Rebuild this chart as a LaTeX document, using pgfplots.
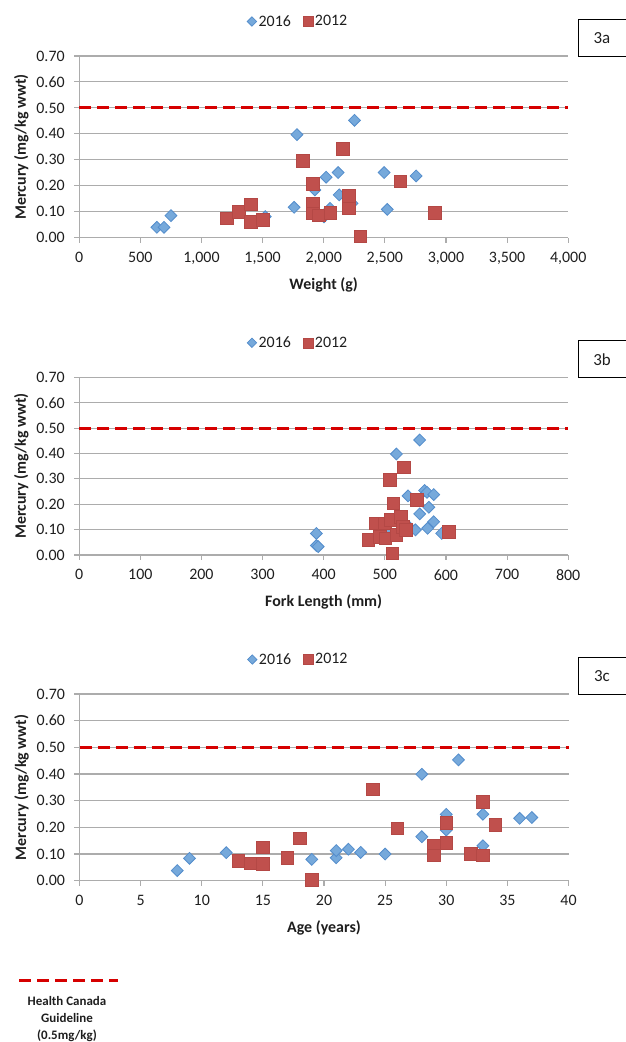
\documentclass[border=0pt]{standalone}
\usepackage{fontspec}
\setmainfont{Carlito}
\usepackage{pgfplots}
\pgfplotsset{compat=1.18}
\definecolor{bluefill}{RGB}{118,169,219}
\definecolor{blueedge}{RGB}{84,141,204}
\definecolor{redfill}{RGB}{192,80,77}
\definecolor{rededge}{RGB}{180,72,69}
\definecolor{guide}{RGB}{214,0,0}
\definecolor{gridgray}{RGB}{172,172,172}
\definecolor{txt}{RGB}{30,30,30}
\pgfplotsset{
  merc/.style={
    scale only axis, width=489bp,
    xmin=0, ymin=0, ymax=0.7,
    ytick={0,0.1,0.2,0.3,0.4,0.5,0.6,0.7},
    scaled x ticks=false, scaled y ticks=false,
    axis x line*=bottom, axis y line*=left,
    axis line style={draw=gridgray, line width=1.1bp, -},
    ymajorgrids, grid style={draw=gridgray, line width=1.1bp},
    tick align=outside, major tick length=5bp,
    tick style={draw=gridgray, line width=1.1bp},
    y tick label style={/pgf/number format/.cd, fixed, fixed zerofill, precision=2, /tikz/.cd, xshift=-6bp},
    x tick label style={yshift=-6bp},
    /pgf/number format/assume math mode=true,
    tick label style={font=\fontsize{16}{16}\selectfont, text=txt},
    clip=false,
    legend columns=2,
    legend style={draw=none, fill=none, font=\fontsize{16}{16}\selectfont, text=txt,
      at={(0.448,1)}, anchor=center, yshift=34.5bp,
      /tikz/every even column/.append style={column sep=10bp}},
    every axis y label/.style={at={(axis description cs:-0.1186,0.5)}, rotate=90, anchor=center,
      font=\bfseries\fontsize{16}{16}\selectfont, text=txt},
    every axis x label/.style={at={(axis description cs:0.5,0)}, yshift=-47bp, anchor=center,
      font=\bfseries\fontsize{16}{16}\selectfont, text=txt},
    ylabel={Mercury (mg/kg wwt)},
  },
  s16/.style={only marks, mark=square*, mark size=4.2bp,
    mark options={rotate=45, fill=bluefill, draw=blueedge, line width=0.8bp},
    legend image post style={mark size=3.3bp}},
  s12/.style={only marks, mark=square*, mark size=6.3bp,
    mark options={fill=redfill, draw=rededge, line width=0.5bp},
    legend image post style={mark size=5bp}},
  guideline/.style={forget plot, guide, line width=3bp, dash pattern=on 12bp off 6bp},
}
\begin{document}
\begin{tikzpicture}
% ---------- 3a ----------
\begin{axis}[merc, at={(79.2bp,804.3bp)}, anchor=south west, height=181.7bp,
  xmax=4000, xtick={0,500,1000,1500,2000,2500,3000,3500,4000},
  x tick label style={/pgf/number format/.cd, 1000 sep={,}, /tikz/.cd},
  xlabel={Weight (g)}]
\addplot[guideline] coordinates {(0,0.5) (4000,0.5)};
\addplot[s16] coordinates {(635,0.040) (694,0.040) (750,0.085) (1522,0.081) (1758,0.117) (1781,0.397) (1928,0.184) (2003,0.080) (2020,0.233) (2052,0.113) (2118,0.251) (2127,0.165) (2232,0.132) (2252,0.452) (2494,0.251) (2520,0.109) (2756,0.238)};
\addlegendentry{2016}
\addplot[s12] coordinates {(1208,0.075) (1306,0.100) (1404,0.129) (1404,0.062) (1502,0.068) (1830,0.297) (1912,0.207) (1912,0.132) (1912,0.094) (1961,0.087) (2052,0.096) (2157,0.343) (2206,0.162) (2206,0.113) (2298,0.005) (2625,0.217) (2910,0.096)};
\addlegendentry{2012}
\end{axis}
% ---------- 3b ----------
\begin{axis}[merc, at={(79.2bp,487bp)}, anchor=south west, height=177.7bp,
  xmax=800, xtick={0,100,200,300,400,500,600,700,800},
  xlabel={Fork Length (mm)}]
\addplot[guideline] coordinates {(0,0.5) (800,0.5)};
\addplot[s16] coordinates {(388,0.085) (388,0.037) (391,0.033) (503,0.100) (519,0.398) (538,0.233) (539,0.112) (550,0.099) (557,0.453) (557,0.162) (565,0.254) (569,0.247) (570,0.105) (572,0.188) (580,0.238) (580,0.131) (593,0.085)};
\addlegendentry{2016}
\addplot[s12] coordinates {(473,0.059) (485,0.125) (492,0.072) (500,0.125) (501,0.066) (508,0.296) (510,0.138) (512,0.007) (514,0.204) (519,0.079) (526,0.151) (529,0.112) (531,0.346) (534,0.099) (552,0.217) (605,0.092)};
\addlegendentry{2012}
\end{axis}
% ---------- 3c ----------
\begin{axis}[merc, at={(79.5bp,161.3bp)}, anchor=south west, height=186.7bp,
  xmax=40, xtick={0,5,10,15,20,25,30,35,40},
  xlabel={Age (years)}]
\addplot[guideline] coordinates {(0,0.5) (40,0.5)};
\addplot[s16] coordinates {(8,0.038) (9,0.084) (12,0.105) (19,0.080) (21,0.086) (21,0.113) (22,0.118) (23,0.106) (25,0.100) (28,0.399) (28,0.165) (30,0.249) (30,0.19) (31,0.453) (33,0.249) (33,0.131) (36,0.234) (37,0.237)};
\addlegendentry{2016}
\addplot[s12] coordinates {(13,0.075) (14,0.065) (15,0.063) (15,0.125) (17,0.085) (18,0.159) (19,0.003) (24,0.343) (26,0.196) (29,0.130) (29,0.096) (30,0.218) (30,0.143) (32,0.100) (33,0.297) (33,0.095) (34,0.209)};
\addlegendentry{2012}
\end{axis}
% ---------- panel tags ----------
\foreach \yt/\lab in {1022/3a, 701/3b, 384/3c}{
  \draw[black, line width=1bp] (578bp,\yt bp) rectangle (632bp,\yt bp-37bp);
  \node[font=\fontsize{17}{17}\selectfont, text=txt] at (602bp,\yt bp-18.5bp) {\lab};
}
% ---------- guideline key ----------
\draw[guide, line width=3bp, dash pattern=on 12bp off 6bp] (19bp,61.3bp) -- (118bp,61.3bp);
\node[font=\bfseries\fontsize{13}{17}\selectfont, text=txt, align=center, anchor=north, inner sep=0pt] at (67bp,46bp)
  {Health Canada\\Guideline\\(0.5mg/kg)};
\pgfresetboundingbox
\path[use as bounding box] (0,0) rectangle (626bp,1042bp);
\end{tikzpicture}
\end{document}
